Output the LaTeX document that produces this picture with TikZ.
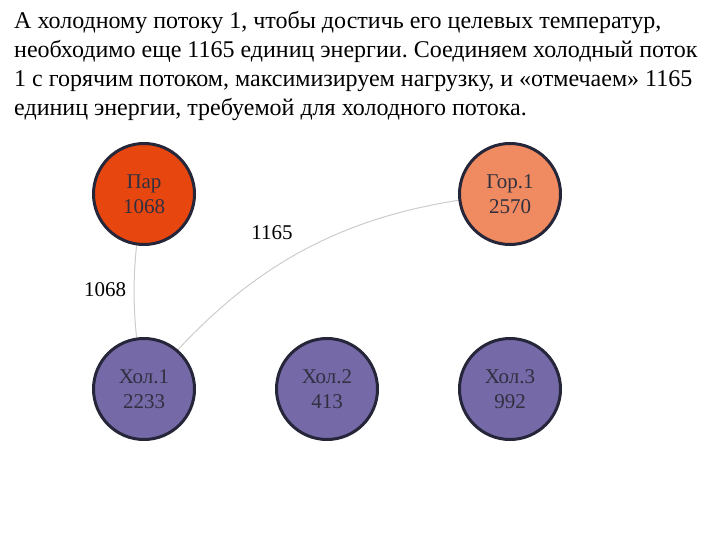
\documentclass[tikz,border=0pt]{standalone}
\usepackage{fontspec}
\setmainfont{Liberation Serif}
\usetikzlibrary{backgrounds}
\definecolor{parc}{HTML}{E8460F}
\definecolor{gorc}{HTML}{F08A60}
\definecolor{holc}{HTML}{7669A8}
\definecolor{bord}{HTML}{26263A}
\definecolor{ntext}{HTML}{303040}
\definecolor{edgec}{HTML}{CCCCCC}
\frenchspacing
\begin{document}
\begin{tikzpicture}[x=1bp,y=-1bp,
  txt/.style={anchor=base west,inner sep=0pt,font=\fontsize{24bp}{28bp}\selectfont},
  stream/.style={circle,draw=bord,line width=3bp,minimum size=101bp,inner sep=0pt,
    align=center,text=ntext,font=\fontsize{21bp}{25bp}\selectfont},
  link/.style={draw=edgec,line width=1bp},
  elab/.style={inner sep=0pt,font=\fontsize{21bp}{24bp}\selectfont}]
\useasboundingbox (0,0) rectangle (720,540);
\node[txt] (l1) at (14,29) {А холодному потоку 1, чтобы достичь его целевых температур,};
\node[txt] (l2) at (14,58) {необходимо еще 1165 единиц энергии. Соединяем холодный поток};
\node[txt] (l3) at (14,87) {1 с горячим потоком, максимизируем нагрузку, и «отмечаем» 1165};
\node[txt] (l4) at (14,116) {единиц энергии, требуемой для холодного потока.};
\node[stream,fill=parc] (par) at (144,194) {Пар\\1068};
\node[stream,fill=gorc] (gor1) at (510,194) {Гор.1\\2570};
\node[stream,fill=holc] (hol1) at (144,389) {Хол.1\\2233};
\node[stream,fill=holc] (hol2) at (327,389) {Хол.2\\413};
\node[stream,fill=holc] (hol3) at (510,389) {Хол.3\\992};
\begin{scope}[on background layer]
\path[link] (par.center) to[bend right=10] (hol1.center);
\path[link] (hol1.center) to[bend left=23] (gor1.center);
\end{scope}
\node[elab] (e1) at (105,290) {1068};
\node[elab] (e2) at (272,233) {1165};
\end{tikzpicture}
\end{document}
